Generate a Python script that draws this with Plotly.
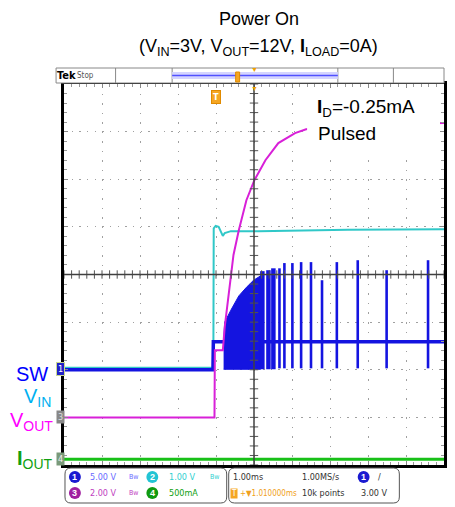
import numpy as np
import plotly.graph_objects as go

# ---------------- data (time in ms, amplitude in screen divisions) ----------------
vin_t = [0, 3.93, 3.94, 3.99, 4.07, 4.13, 4.18, 4.23, 4.39, 5.12, 6.16, 7.47, 10]
vin_v = [-1.96, -1.96, 0.97, 1.02, 1.00, 0.89, 0.81, 0.87, 0.91, 0.91, 0.93, 0.94, 0.95]

vout_t = [0, 3.96, 3.97, 4.18, 4.23, 4.46, 4.60, 4.80, 5.01, 5.30, 5.64, 6.08, 6.37, 7.47, 8.77, 10]
vout_v = [-3.0, -3.0, -1.59, -1.59, -1.10, 0.41, 0.93, 1.56, 1.98, 2.40, 2.76, 2.97, 3.05, 3.12, 3.16, 3.18]

sw_t = [0, 3.92, 3.93, 10]
sw_v = [-2.0, -2.0, -1.41, -1.41]

burst_t = [4.20, 4.23, 4.39, 4.60, 4.80, 4.99, 5.17]
burst_top = [-1.41, -1.0, -0.75, -0.45, -0.27, -0.12, -0.03]
burst_bottom = [-1.99]

group_t = [5.22, 5.38, 5.51]
group_top = [0.07, 0.09, 0.13]
pulse_t = [5.67, 5.80, 6.01, 6.24, 6.50, 6.79, 7.18, 7.73, 8.49, 9.58]
pulse_top = [0.13, 0.24, 0.24, 0.26, 0.26, -0.12, 0.26, 0.30, 0.09, 0.30]
pulse_bottom = [-1.97]

iout_t = [0, 10]
iout_v = [-3.88, -3.88]

# ---------------- geometry helpers (pixel -> paper) ----------------
W, H = 455, 507
L, R, T, B = 64, 447, 84, 465
def px(x): return (x - L) / (R - L)
def py(y): return (B - y) / (B - T)

BLUE = '#1414e0'
CYAN = '#30c8c8'
MAG = '#d820d8'
GRN = '#18c018'

fig = go.Figure()

fig.add_trace(go.Scatter(x=vin_t, y=vin_v, mode='lines', line=dict(color=CYAN, width=2), hoverinfo='skip'))
fig.add_trace(go.Scatter(x=iout_t, y=iout_v, mode='lines', line=dict(color=GRN, width=3), hoverinfo='skip'))
fig.add_trace(go.Scatter(x=sw_t, y=sw_v, mode='lines', line=dict(color=BLUE, width=3.5), hoverinfo='skip'))
bx = burst_t + [burst_t[-1], burst_t[0]]
by = burst_top + [burst_bottom[0], burst_bottom[0]]
fig.add_trace(go.Scatter(x=bx, y=by, mode='lines', fill='toself', fillcolor=BLUE,
                         line=dict(color=BLUE, width=1), hoverinfo='skip'))
gx, gy = [], []
for t, top in zip(group_t, group_top):
    gx += [t, t, None]; gy += [burst_bottom[0], top, None]
fig.add_trace(go.Scatter(x=gx, y=gy, mode='lines', line=dict(color=BLUE, width=4.5), hoverinfo='skip'))
qx, qy = [], []
for t, top in zip(pulse_t, pulse_top):
    qx += [t, t, None]; qy += [pulse_bottom[0], top, None]
fig.add_trace(go.Scatter(x=qx, y=qy, mode='lines', line=dict(color=BLUE, width=2.6), hoverinfo='skip'))
fig.add_trace(go.Scatter(x=vout_t, y=vout_v, mode='lines', line=dict(color=MAG, width=2), hoverinfo='skip'))

ht = np.round(np.arange(0, 10.001, 0.2), 3)
vt = np.round(np.arange(-4, 4.001, 0.2), 3)
fig.add_trace(go.Scatter(x=ht, y=[0] * len(ht), mode='markers', hoverinfo='skip',
                         marker=dict(symbol='line-ns', size=6, line=dict(color='#555', width=1))))
fig.add_trace(go.Scatter(x=[5] * len(vt), y=vt, mode='markers', hoverinfo='skip',
                         marker=dict(symbol='line-ew', size=6, line=dict(color='#555', width=1))))

shapes = []
shapes.append(dict(type='line', xref='x', yref='y', x0=0, x1=10, y0=0, y1=0,
                   line=dict(color='#404040', width=1.5), layer='above'))
shapes.append(dict(type='line', xref='x', yref='y', x0=5, x1=5, y0=-4, y1=4,
                   line=dict(color='#404040', width=1.5), layer='above'))
shapes.append(dict(type='rect', xref='paper', yref='paper', x0=px(309), x1=px(443), y0=py(155), y1=py(90),
                   fillcolor='white', line=dict(width=0), layer='above'))

shapes.append(dict(type='rect', xref='paper', yref='paper', x0=px(56), x1=px(447), y0=py(83), y1=py(68),
                   line=dict(color='#888', width=1), fillcolor='white'))
for xd in [116, 173, 340, 396]:
    shapes.append(dict(type='line', xref='paper', yref='paper', x0=px(xd), x1=px(xd), y0=py(83), y1=py(68),
                       line=dict(color='#888', width=1)))
shapes.append(dict(type='rect', xref='paper', yref='paper', x0=px(173), x1=px(340), y0=py(79), y1=py(72),
                   fillcolor='#d4d4ff', line=dict(width=0)))
shapes.append(dict(type='line', xref='paper', yref='paper', x0=px(173), x1=px(340), y0=py(75.5), y1=py(75.5),
                   line=dict(color='#5050ff', width=1.5)))
shapes.append(dict(type='rect', xref='paper', yref='paper', x0=px(237), x1=px(241), y0=py(82), y1=py(72),
                   fillcolor='#f5a623', line=dict(color='#e08a00', width=1)))


def rrect(x0, y0, x1, y1, r):
    rx, ry = r / (R - L), r / (B - T)
    X0, X1, Y0, Y1 = px(x0), px(x1), py(y0), py(y1)
    return (f"M {X0+rx},{Y0} L {X1-rx},{Y0} Q {X1},{Y0} {X1},{Y0-ry} L {X1},{Y1+ry} "
            f"Q {X1},{Y1} {X1-rx},{Y1} L {X0+rx},{Y1} Q {X0},{Y1} {X0},{Y1+ry} L {X0},{Y0-ry} "
            f"Q {X0},{Y0} {X0+rx},{Y0} Z")

shapes.append(dict(type='path', xref='paper', yref='paper', path=rrect(65, 468, 228, 503, 6),
                   line=dict(color='#555', width=1)))
shapes.append(dict(type='path', xref='paper', yref='paper', path=rrect(230, 468, 402, 503, 6),
                   line=dict(color='#555', width=1)))

anns = []
def txt(x, y, s, color='black', size=12, xanchor='left', family='Liberation Sans, Arial, sans-serif', **kw):
    anns.append(dict(x=px(x), y=py(y), xref='paper', yref='paper', text=s, showarrow=False,
                     xanchor=xanchor, yanchor='middle', font=dict(color=color, size=size, family=family), **kw))

def circ(x, y, color, label):
    shapes.append(dict(type='circle', xref='paper', yref='paper', x0=px(x - 6), x1=px(x + 6),
                       y0=py(y + 6), y1=py(y - 6), fillcolor=color, line=dict(width=0)))
    txt(x, y, f"<b>{label}</b>", 'white', 9, 'center')

txt(261, 19, "Power On", 'black', 18, 'center')
txt(260, 47, "(V<sub>IN</sub>=3V, V<sub>OUT</sub>=12V, <b>I</b><sub>LOAD</sub>=0A)", 'black', 18, 'center')

txt(317, 108, "<b>I</b><sub>D</sub>=-0.25mA", 'black', 19, 'left')
txt(318, 133, "Pulsed", 'black', 19, 'left')

txt(50, 374, "SW", '#0000ff', 20, 'right')
txt(53, 397, "V<sub>IN</sub>", '#00b0f0', 20, 'right')
txt(55, 421, "V<sub>OUT</sub>", '#ff00ff', 20, 'right')
txt(55, 459, "<b>I</b><sub>OUT</sub>", '#10a010', 20, 'right')

NARROW = 'Liberation Sans Narrow, DejaVu Sans Condensed, Liberation Sans, sans-serif'
txt(60, 369, "1", 'white', 9, 'center', NARROW, bgcolor='#2020c8', bordercolor='#c8d890', borderwidth=1, borderpad=1)
txt(60, 417, "3", '#ddd', 9, 'center', NARROW, bgcolor='#888888', borderpad=1)
txt(60, 459, "4", '#eee', 9, 'center', NARROW, bgcolor='#7a9a7a', borderpad=1)

txt(55, 75, "<b>Tek</b>", 'black', 11, 'left', NARROW)
txt(75, 75, "Stop", '#555', 8, 'left', NARROW)
txt(256, 70, "▼", '#f0a000', 7, 'center')
txt(256, 88, "▼", '#f0a000', 7, 'center')
txt(217, 97, "<b>T</b>", 'white', 9, 'center', NARROW, bgcolor='#f5a623', bordercolor='#e08a00', borderwidth=1, borderpad=1)

circ(75, 477, '#1a1ad0', '1')
txt(88, 477, "5.00 V", '#6a6aff', 9, 'left', NARROW)
txt(128, 477, "Bw", '#6a6aff', 7, 'left', NARROW)
circ(153, 477, '#22c4d4', '2')
txt(168, 477, "1.00 V", '#30d0d0', 9, 'left', NARROW)
txt(209, 477, "Bw", '#30d0d0', 7, 'left', NARROW)
circ(75, 493, '#a020a0', '3')
txt(88, 493, "2.00 V", '#c040c0', 9, 'left', NARROW)
txt(128, 493, "Bw", '#c040c0', 7, 'left', NARROW)
circ(153, 493, '#109a10', '4')
txt(168, 493, "500mA", '#10a010', 9, 'left', NARROW)

txt(232, 477, "1.00ms", '#333', 9, 'left', NARROW)
txt(302, 477, "1.00MS/s", '#333', 9, 'left', NARROW)
circ(366, 477, '#1a1ad0', '1')
txt(378, 477, "/", '#333', 9, 'left', NARROW)
txt(235, 493, "T", 'white', 8, 'center', NARROW, bgcolor='#f5a623', borderpad=0)
txt(239, 493, "+▼1.010000ms", '#f0a020', 8, 'left', NARROW)
txt(302, 493, "10k points", '#333', 9, 'left', NARROW)
txt(361, 493, "3.00 V", '#333', 9, 'left', NARROW)

axis_common = dict(showticklabels=False, zeroline=False, showline=True, linecolor='black', linewidth=3,
                   mirror='allticks', ticks='inside', ticklen=4, tickcolor='#888', gridcolor='#a0a0a0',
                   gridwidth=1, fixedrange=True)
fig.update_layout(
    width=W, height=H, margin=dict(l=L, r=W - R, t=T, b=H - B),
    paper_bgcolor='white', plot_bgcolor='white', showlegend=False,
    xaxis=dict(range=[0, 10], dtick=1, griddash='1.5px,8.02px',
               minor=dict(dtick=0.2, ticks='inside', ticklen=3, tickcolor='#999', showgrid=False), **axis_common),
    yaxis=dict(range=[-4, 4], dtick=1, griddash='1.5px,6.16px',
               minor=dict(dtick=0.2, ticks='inside', ticklen=3, tickcolor='#999', showgrid=False), **axis_common),
    shapes=shapes, annotations=anns,
)

fig.write_html("out.html", config={'displayModeBar': False},
               post_script="document.body.style.margin='0';document.body.style.overflow='hidden';")
